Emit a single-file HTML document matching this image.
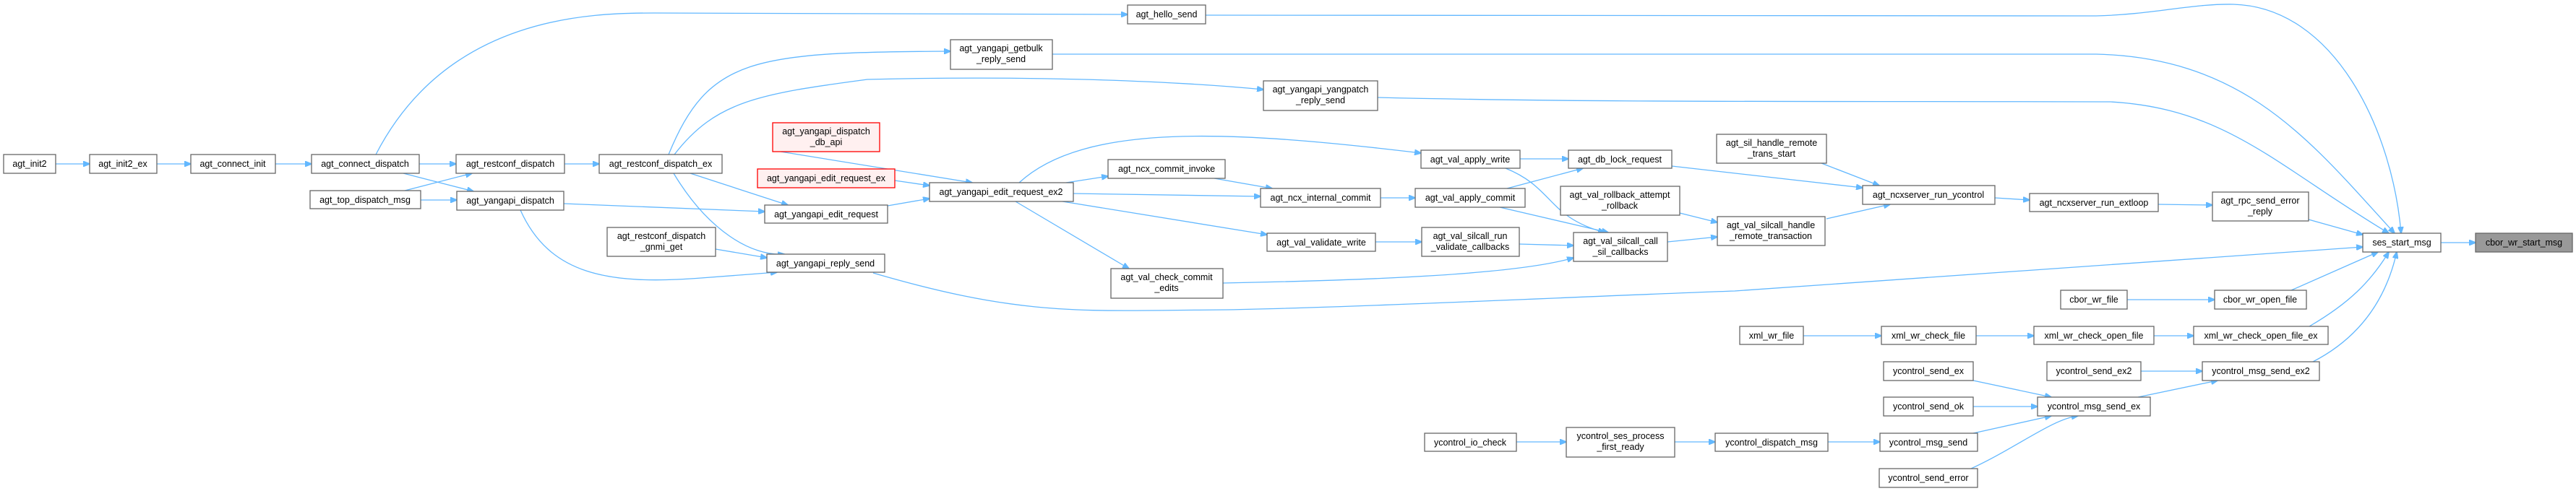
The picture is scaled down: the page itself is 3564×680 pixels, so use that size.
<!DOCTYPE html>
<html><head><meta charset="utf-8"><style>
html,body{margin:0;padding:0;background:#fff;}
svg{display:block;}
text{font-family:"Liberation Sans",sans-serif;font-size:12.5px;fill:#000;text-anchor:middle;}
.n{fill:#fff;stroke:#666;stroke-width:1.3;}
.r{fill:#fff0f0;stroke:#ff0000;stroke-width:1.3;}
.g{fill:#999;stroke:#666;stroke-width:1.3;}
.e{fill:none;stroke:#63b8ff;stroke-width:1.3;}
</style></head><body>
<svg width="3564" height="680" viewBox="0 0 3564 680" xmlns="http://www.w3.org/2000/svg">
<defs><marker id="a" markerWidth="10" markerHeight="8" refX="9" refY="4" orient="auto" markerUnits="userSpaceOnUse"><path d="M0,0 L10,4 L0,8 Z" fill="#63b8ff" stroke="#63b8ff"/></marker></defs>
<g marker-end="url(#a)">
<path class="e" d="M77,227 L124,227"/>
<path class="e" d="M217,227 L264,227"/>
<path class="e" d="M381,227 L431,227"/>
<path class="e" d="M580,227 L631,227"/>
<path class="e" d="M558,240 L655,265"/>
<path class="e" d="M520,214 C620,20 820,18 905,18 L1560,20"/>
<path class="e" d="M560,264 L653,240"/>
<path class="e" d="M582,277 L632,277"/>
<path class="e" d="M781,227 L829,227"/>
<path class="e" d="M925,214 C980,80 1040,72 1315,71"/>
<path class="e" d="M933,214 C990,140 1050,130 1200,110 C1400,105 1600,110 1748,124"/>
<path class="e" d="M955,240 L1090,284"/>
<path class="e" d="M932,240 C980,320 1040,355 1085,352"/>
<path class="e" d="M780,282 L1058,293"/>
<path class="e" d="M720,291 C760,380 840,395 970,385 L1075,377"/>
<path class="e" d="M990,345 L1061,357"/>
<path class="e" d="M1080,210 L1345,253"/>
<path class="e" d="M1238,250 L1286,257"/>
<path class="e" d="M1228,285 L1286,275"/>
<path class="e" d="M1475,253 L1533,244"/>
<path class="e" d="M1485,268 L1744,272"/>
<path class="e" d="M1410,253 C1500,170 1700,180 1966,212"/>
<path class="e" d="M1470,279 L1753,325"/>
<path class="e" d="M1405,279 L1562,372"/>
<path class="e" d="M1680,247 L1760,261"/>
<path class="e" d="M1910,274 L1958,274"/>
<path class="e" d="M2103,220 L2170,220"/>
<path class="e" d="M2083,233 C2150,260 2140,300 2220,322"/>
<path class="e" d="M2085,261 L2190,233"/>
<path class="e" d="M2075,287 L2225,322"/>
<path class="e" d="M1903,335 L1967,335"/>
<path class="e" d="M2102,338 L2177,340"/>
<path class="e" d="M1692,392 C1900,388 2100,380 2177,357"/>
<path class="e" d="M2313,230 L2577,260"/>
<path class="e" d="M2324,295 L2376,308"/>
<path class="e" d="M2307,335 L2376,328"/>
<path class="e" d="M2520,226 L2600,257"/>
<path class="e" d="M2527,303 L2615,283"/>
<path class="e" d="M2760,274 L2808,277"/>
<path class="e" d="M2986,283 L3061,284"/>
<path class="e" d="M3194,304 L3269,325"/>
<path class="e" d="M3377,336 L3425,336"/>
<path class="e" d="M1668,21 L2900,22 C2980,20 3030,5 3090,6 C3230,10 3310,180 3322,323"/>
<path class="e" d="M1456,75 L2900,75 C3110,80 3200,200 3313,323"/>
<path class="e" d="M1906,135 C2200,142 2500,140 2920,141 C3080,150 3150,230 3305,323"/>
<path class="e" d="M1208,378 C1420,440 1500,430 1697,429 C1900,425 2200,410 2400,403 L3269,342"/>
<path class="e" d="M2943,415 L3064,415"/>
<path class="e" d="M3170,402 L3290,349"/>
<path class="e" d="M2495,465 L2603,465"/>
<path class="e" d="M2734,465 L2814,465"/>
<path class="e" d="M2980,465 L3035,465"/>
<path class="e" d="M3195,452 C3250,420 3280,390 3305,349"/>
<path class="e" d="M3200,501 C3260,470 3300,420 3316,349"/>
<path class="e" d="M2962,514 L3047,514"/>
<path class="e" d="M2730,527 L2838,550"/>
<path class="e" d="M2730,563 L2819,563"/>
<path class="e" d="M2730,600 L2838,576"/>
<path class="e" d="M2727,649 C2790,620 2840,580 2875,576"/>
<path class="e" d="M2958,550 L3068,527"/>
<path class="e" d="M2098,612 L2167,612"/>
<path class="e" d="M2317,612 L2373,612"/>
<path class="e" d="M2529,612 L2601,612"/>
</g>
<!-- nodes -->
<rect class="n" x="5" y="214" width="72" height="26"/><text x="41" y="231">agt_init2</text>
<rect class="n" x="124" y="214" width="93" height="26"/><text x="170" y="231">agt_init2_ex</text>
<rect class="n" x="264" y="214" width="117" height="26"/><text x="322" y="231">agt_connect_init</text>
<rect class="n" x="431" y="214" width="149" height="26"/><text x="505" y="231">agt_connect_dispatch</text>
<rect class="n" x="631" y="214" width="150" height="26"/><text x="706" y="231">agt_restconf_dispatch</text>
<rect class="n" x="829" y="214" width="170" height="26"/><text x="914" y="231">agt_restconf_dispatch_ex</text>
<rect class="n" x="429" y="264" width="153" height="25"/><text x="505" y="281">agt_top_dispatch_msg</text>
<rect class="n" x="632" y="265" width="148" height="26"/><text x="706" y="282">agt_yangapi_dispatch</text>
<rect class="r" x="1069" y="170" width="148" height="40"/><text x="1143" y="186">agt_yangapi_dispatch</text><text x="1143" y="201">_db_api</text>
<rect class="r" x="1048" y="234" width="190" height="26"/><text x="1143" y="251">agt_yangapi_edit_request_ex</text>
<rect class="n" x="1058" y="284" width="170" height="25"/><text x="1143" y="301">agt_yangapi_edit_request</text>
<rect class="n" x="840" y="315" width="150" height="40"/><text x="915" y="331">agt_restconf_dispatch</text><text x="915" y="346">_gnmi_get</text>
<rect class="n" x="1061" y="352" width="163" height="25"/><text x="1142" y="369">agt_yangapi_reply_send</text>
<rect class="n" x="1560" y="7" width="108" height="26"/><text x="1614" y="24">agt_hello_send</text>
<rect class="n" x="1315" y="55" width="141" height="41"/><text x="1385" y="71">agt_yangapi_getbulk</text><text x="1385" y="86">_reply_send</text>
<rect class="n" x="1748" y="112" width="158" height="41"/><text x="1827" y="128">agt_yangapi_yangpatch</text><text x="1827" y="143">_reply_send</text>
<rect class="n" x="1286" y="253" width="199" height="26"/><text x="1385" y="270">agt_yangapi_edit_request_ex2</text>
<rect class="n" x="1533" y="221" width="162" height="26"/><text x="1614" y="238">agt_ncx_commit_invoke</text>
<rect class="n" x="1744" y="261" width="166" height="26"/><text x="1827" y="278">agt_ncx_internal_commit</text>
<rect class="n" x="1753" y="323" width="150" height="25"/><text x="1828" y="340">agt_val_validate_write</text>
<rect class="n" x="1537" y="372" width="155" height="41"/><text x="1614" y="388">agt_val_check_commit</text><text x="1614" y="403">_edits</text>
<rect class="n" x="1966" y="208" width="137" height="25"/><text x="2034" y="225">agt_val_apply_write</text>
<rect class="n" x="1958" y="261" width="152" height="26"/><text x="2034" y="278">agt_val_apply_commit</text>
<rect class="n" x="1967" y="315" width="135" height="40"/><text x="2034" y="331">agt_val_silcall_run</text><text x="2034" y="346">_validate_callbacks</text>
<rect class="n" x="2170" y="208" width="143" height="25"/><text x="2241" y="225">agt_db_lock_request</text>
<rect class="n" x="2159" y="258" width="165" height="40"/><text x="2241" y="274">agt_val_rollback_attempt</text><text x="2241" y="289">_rollback</text>
<rect class="n" x="2177" y="322" width="130" height="40"/><text x="2242" y="338">agt_val_silcall_call</text><text x="2242" y="353">_sil_callbacks</text>
<rect class="n" x="2375" y="186" width="152" height="40"/><text x="2451" y="202">agt_sil_handle_remote</text><text x="2451" y="217">_trans_start</text>
<rect class="n" x="2376" y="300" width="149" height="40"/><text x="2450" y="316">agt_val_silcall_handle</text><text x="2450" y="331">_remote_transaction</text>
<rect class="n" x="2577" y="257" width="183" height="26"/><text x="2668" y="274">agt_ncxserver_run_ycontrol</text>
<rect class="n" x="2808" y="268" width="178" height="25"/><text x="2897" y="285">agt_ncxserver_run_extloop</text>
<rect class="n" x="3061" y="266" width="133" height="40"/><text x="3127" y="282">agt_rpc_send_error</text><text x="3127" y="297">_reply</text>
<rect class="n" x="3269" y="323" width="108" height="26"/><text x="3323" y="340">ses_start_msg</text>
<rect class="g" x="3425" y="323" width="134" height="26"/><text x="3492" y="340">cbor_wr_start_msg</text>
<rect class="n" x="2851" y="402" width="92" height="26"/><text x="2897" y="419">cbor_wr_file</text>
<rect class="n" x="3064" y="402" width="127" height="26"/><text x="3127" y="419">cbor_wr_open_file</text>
<rect class="n" x="2407" y="452" width="88" height="25"/><text x="2451" y="469">xml_wr_file</text>
<rect class="n" x="2603" y="452" width="131" height="25"/><text x="2668" y="469">xml_wr_check_file</text>
<rect class="n" x="2814" y="452" width="166" height="25"/><text x="2897" y="469">xml_wr_check_open_file</text>
<rect class="n" x="3035" y="452" width="186" height="25"/><text x="3128" y="469">xml_wr_check_open_file_ex</text>
<rect class="n" x="2606" y="501" width="124" height="26"/><text x="2668" y="518">ycontrol_send_ex</text>
<rect class="n" x="2832" y="501" width="130" height="26"/><text x="2897" y="518">ycontrol_send_ex2</text>
<rect class="n" x="3047" y="501" width="162" height="26"/><text x="3128" y="518">ycontrol_msg_send_ex2</text>
<rect class="n" x="2606" y="550" width="124" height="26"/><text x="2668" y="567">ycontrol_send_ok</text>
<rect class="n" x="2819" y="550" width="156" height="26"/><text x="2897" y="567">ycontrol_msg_send_ex</text>
<rect class="n" x="1971" y="600" width="127" height="25"/><text x="2034" y="617">ycontrol_io_check</text>
<rect class="n" x="2167" y="592" width="150" height="41"/><text x="2242" y="608">ycontrol_ses_process</text><text x="2242" y="623">_first_ready</text>
<rect class="n" x="2373" y="600" width="156" height="25"/><text x="2451" y="617">ycontrol_dispatch_msg</text>
<rect class="n" x="2601" y="600" width="135" height="25"/><text x="2668" y="617">ycontrol_msg_send</text>
<rect class="n" x="2600" y="649" width="136" height="26"/><text x="2668" y="666">ycontrol_send_error</text>
</svg>
</body></html>
